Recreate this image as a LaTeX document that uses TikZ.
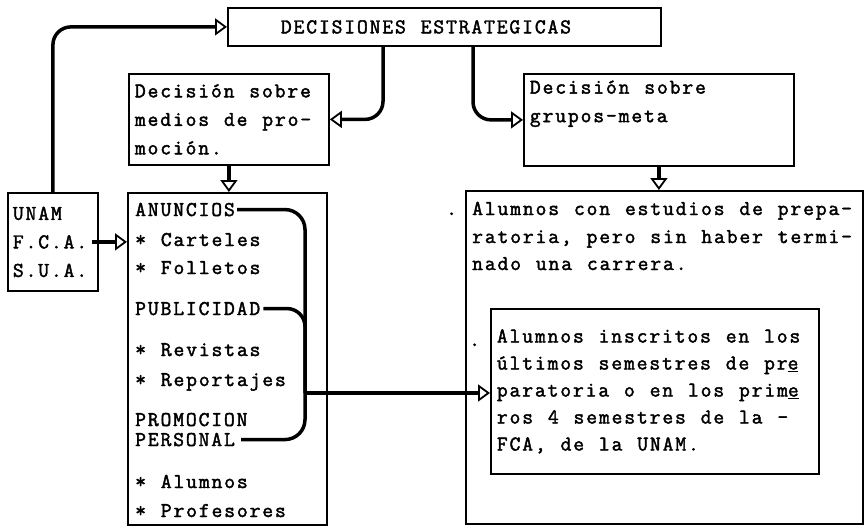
\documentclass[tikz,border=0pt]{standalone}
\usepackage{fontspec}
\usepackage{tikz}
\usetikzlibrary{arrows.meta}
\newfontfamily\typewriter{Latin Modern Mono}[LetterSpace=8.9, WordSpace={1.17,0,0}, FakeBold=2]

\tikzset{
  card/.style={draw, line width=1.8pt, anchor=north west, inner ysep=0pt, inner xsep=6pt, align=left,
    execute at begin node={\spaceskip=\fontdimen2\font\xspaceskip=\fontdimen2\font}},
  item/.style={anchor=base west, inner sep=0pt},
  link/.style={line width=3.5pt},
  feed/.style={-{Triangle[open,length=12pt,width=17pt,line width=1.8pt]}}
}

\begin{document}
\begin{tikzpicture}[x=1pt,y=-1pt,font=\typewriter\fontsize{21}{28.5}\selectfont]
\useasboundingbox (0,0) rectangle (866,527);

\node[card, text width=421pt, minimum height=38pt] (dec) at (227,7) {\hspace*{47pt}DECISIONES ESTRATEGICAS};
\node[card, text width=188pt, minimum height=91pt] (medios) at (128,73) {Decisión sobre\\medios de pro-\\moción.};
\node[card, text width=258pt, minimum height=92pt] (grupos) at (523,73) {Decisión sobre\\grupos-meta\\\strut};
\node[card, inner xsep=5pt, text width=80pt, minimum height=98pt] (unam) at (7,192) {UNAM\\F.C.A.\\S.U.A.};

% medios de promocion
\node[card, minimum width=199pt, minimum height=332pt] (lista) at (127,192) {};
\node[item] (anun) at (135,216) {ANUNCIOS};
\node[item] (cart) at (135,246) {* Carteles};
\node[item] (foll) at (135,274) {* Folletos};
\node[item] (publ) at (135,315) {PUBLICIDAD};
\node[item] (revi) at (135,356) {* Revistas};
\node[item] (repo) at (135,386) {* Reportajes};
\node[item] (promo) at (135,426) {PROMOCION};
\node[item] (pers) at (135,446) {PERSONAL};
\node[item] (alum) at (135,488) {* Alumnos};
\node[item] (prof) at (135,517) {* Profesores};

% grupos meta
\node[card, minimum width=397pt, minimum height=333pt] (perfil) at (465,190) {};
\node[item] (dot1) at (446,215) {.};
\node[item] (perf1) at (472,215) {Alumnos con estudios de prepa-};
\node[item] (perf2) at (472,243) {ratoria, pero sin haber termi-};
\node[item] (perf3) at (472,270) {nado una carrera.};
\node[item] (dot2) at (469,346) {.};
\node[card, text width=316pt, minimum height=165pt,
      font=\typewriter\fontsize{21}{27}\selectfont] (inscritos) at (490,308)
  {Alumnos inscritos en los\\últimos semestres de pr\underline{e}\\paratoria o en los prim\underline{e}\\ros 4 semestres de la -\\FCA, de la UNAM.};

\draw[link, feed, rounded corners=18pt] (unam.north) |- (dec.west);
\draw[link, feed, rounded corners=18pt] ([xshift=156pt]dec.south west) |- (medios.east);
\draw[link, feed, rounded corners=18pt] ([xshift=246pt]dec.south west) |- (grupos.west);
\draw[link, feed] (medios.south) -- (medios.south |- lista.north);
\draw[link, feed] (grupos.south) -- (grupos.south |- perfil.north);
\draw[link, feed] ([xshift=-7pt]unam.east) -- (unam.east -| lista.west);

\coordinate (brace) at (305,393);
\draw[link, rounded corners=20pt] ([xshift=2pt]anun.east) -| (brace |- pers.east) -- ([xshift=6pt]pers.east);
\draw[link, rounded corners=18pt] ([xshift=3pt]publ.east) -| (brace);
\draw[link, feed] (brace) -- (brace -| inscritos.west);
\end{tikzpicture}
\end{document}
